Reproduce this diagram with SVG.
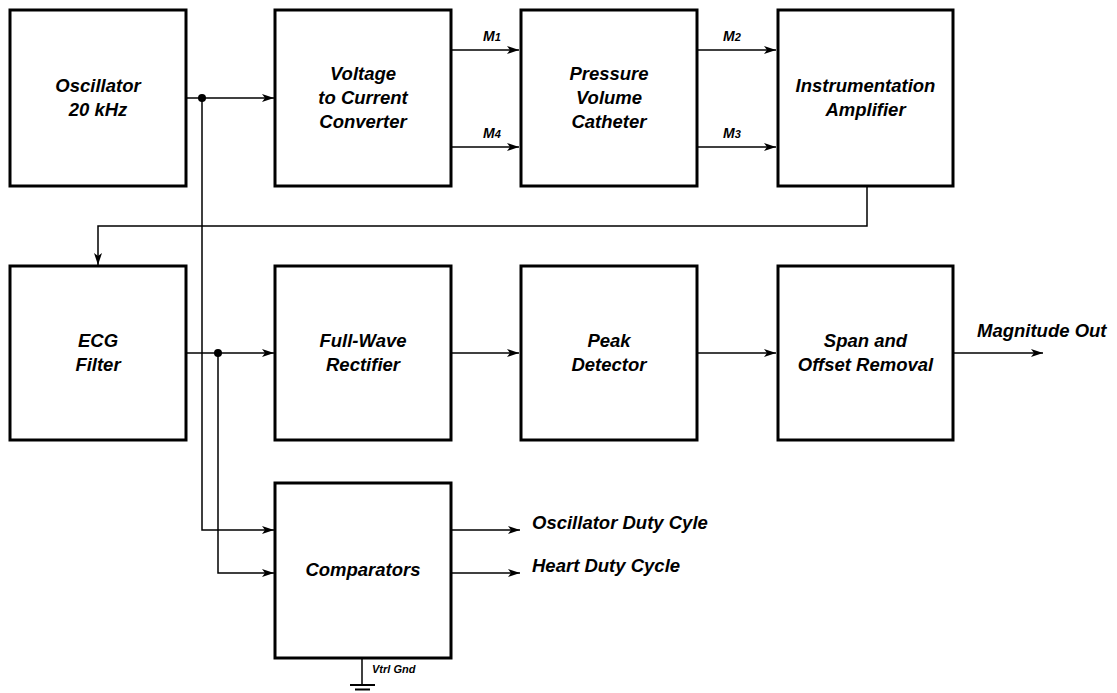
<svg xmlns="http://www.w3.org/2000/svg" width="1117" height="693" viewBox="0 0 1117 693">
<defs>
<style>
.box{fill:#fff;stroke:#000;stroke-width:3}
.t{font-family:"Liberation Sans",Arial,sans-serif;font-weight:bold;font-style:italic;font-size:18.5px;fill:#000;text-anchor:middle}
.l{font-family:"Liberation Sans",Arial,sans-serif;font-weight:bold;font-style:italic;font-size:18.5px;fill:#000}
.m{font-family:"Liberation Sans",Arial,sans-serif;font-weight:bold;font-style:italic;font-size:14px;fill:#000}
.s{font-size:11px}
.g{font-family:"Liberation Sans",Arial,sans-serif;font-weight:bold;font-style:italic;font-size:11px;fill:#000}
.w{fill:none;stroke:#000;stroke-width:1.5}
</style>
<marker id="arr" markerWidth="13" markerHeight="9" refX="12" refY="4.5" orient="auto" markerUnits="userSpaceOnUse">
<path d="M0,0.5 L12,4.5 L0,8.5 L3,4.5 z" fill="#000"/>
</marker>
</defs>
<rect width="1117" height="693" fill="#fff"/>

<g id="connectors">
<path class="w" d="M186,98 H274" marker-end="url(#arr)"/>
<path class="w" d="M202,98 V530 H274" marker-end="url(#arr)"/>
<circle cx="202" cy="98" r="4" fill="#000"/>
<path class="w" d="M451,50 H519" marker-end="url(#arr)"/>
<path class="w" d="M451,147 H519" marker-end="url(#arr)"/>
<path class="w" d="M697,50 H776" marker-end="url(#arr)"/>
<path class="w" d="M697,147 H776" marker-end="url(#arr)"/>
<path class="w" d="M867,186 V226 H98 V265" marker-end="url(#arr)"/>
<path class="w" d="M186,353 H274" marker-end="url(#arr)"/>
<path class="w" d="M218,353 V573 H274" marker-end="url(#arr)"/>
<circle cx="218" cy="353" r="4" fill="#000"/>
<path class="w" d="M451,353 H519" marker-end="url(#arr)"/>
<path class="w" d="M697,353 H776" marker-end="url(#arr)"/>
<path class="w" d="M953,353 H1043" marker-end="url(#arr)"/>
<path class="w" d="M451,530 H520" marker-end="url(#arr)"/>
<path class="w" d="M451,573 H520" marker-end="url(#arr)"/>
<path class="w" d="M362,658 V685"/>
<path fill="none" stroke="#000" stroke-width="2" d="M350,685 H375 M355,689.5 H370"/>
<text class="m" x="483" y="41">M<tspan class="s">1</tspan></text>
<text class="m" x="483" y="138">M<tspan class="s">4</tspan></text>
<text class="m" x="723" y="41">M<tspan class="s">2</tspan></text>
<text class="m" x="723" y="138">M<tspan class="s">3</tspan></text>
<text class="l" x="977" y="337">Magnitude Out</text>
<text class="l" x="532" y="529">Oscillator Duty Cyle</text>
<text class="l" x="532" y="572">Heart Duty Cycle</text>
<text class="g" x="372" y="673">Vtrl Gnd</text>
</g>

<g id="oscillator">
<rect class="box" x="10" y="10" width="176" height="176"/>
<text class="t" x="98" y="92">Oscillator</text>
<text class="t" x="98" y="116">20 kHz</text>
</g>
<g id="v2c">
<rect class="box" x="275" y="10" width="176" height="176"/>
<text class="t" x="363" y="80">Voltage</text>
<text class="t" x="363" y="104">to Current</text>
<text class="t" x="363" y="128">Converter</text>
</g>
<g id="pressure">
<rect class="box" x="521" y="10" width="176" height="176"/>
<text class="t" x="609" y="80">Pressure</text>
<text class="t" x="609" y="104">Volume</text>
<text class="t" x="609" y="128">Catheter</text>
</g>
<g id="instrumentation">
<rect class="box" x="778" y="10" width="175" height="176"/>
<text class="t" x="865.5" y="92">Instrumentation</text>
<text class="t" x="865.5" y="116">Amplifier</text>
</g>
<g id="ecg">
<rect class="box" x="10" y="266" width="176" height="174"/>
<text class="t" x="98" y="347">ECG</text>
<text class="t" x="98" y="371">Filter</text>
</g>
<g id="rectifier">
<rect class="box" x="275" y="266" width="176" height="174"/>
<text class="t" x="363" y="347">Full-Wave</text>
<text class="t" x="363" y="371">Rectifier</text>
</g>
<g id="peak">
<rect class="box" x="521" y="266" width="176" height="174"/>
<text class="t" x="609" y="347">Peak</text>
<text class="t" x="609" y="371">Detector</text>
</g>
<g id="span">
<rect class="box" x="778" y="266" width="175" height="174"/>
<text class="t" x="865.5" y="347">Span and</text>
<text class="t" x="865.5" y="371">Offset Removal</text>
</g>
<g id="comparators">
<rect class="box" x="275" y="483" width="176" height="175"/>
<text class="t" x="363" y="576">Comparators</text>
</g>
</svg>
